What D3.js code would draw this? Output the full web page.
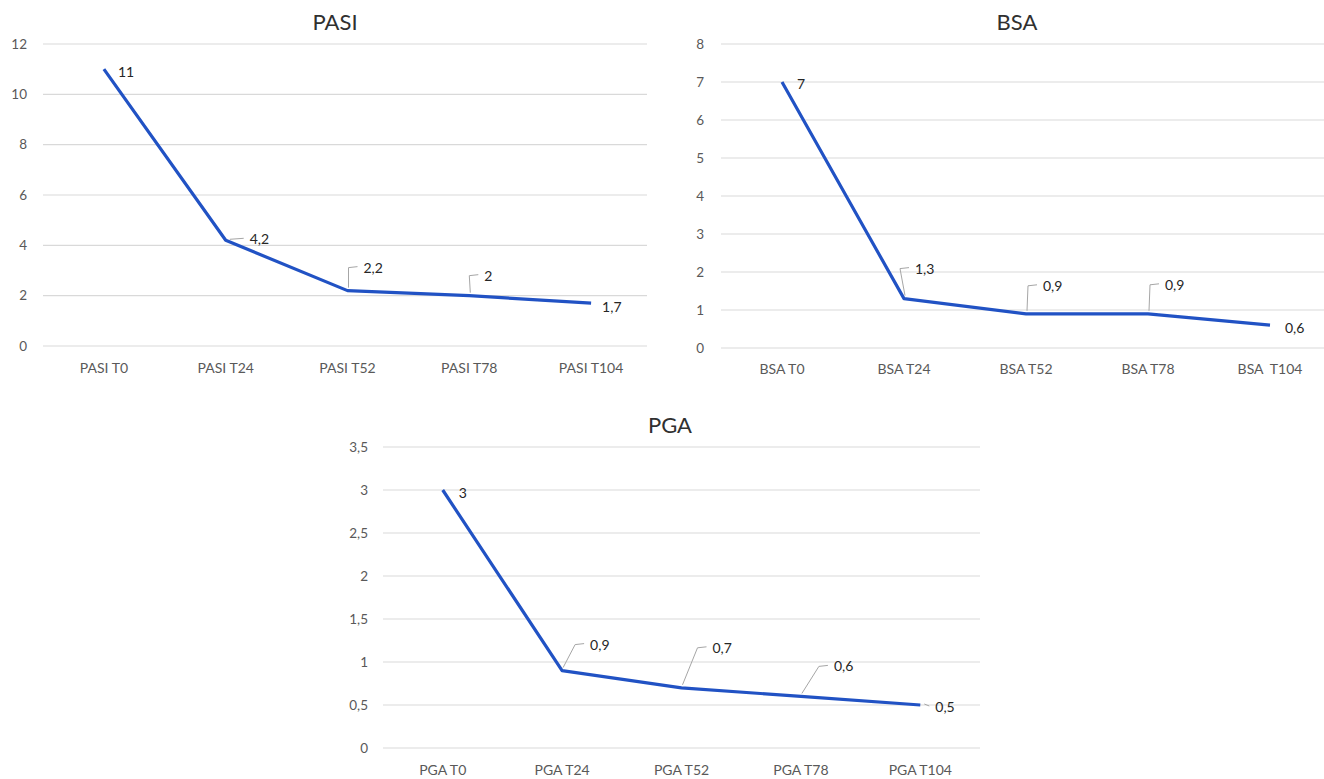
<!DOCTYPE html>
<html>
<head>
<meta charset="utf-8">
<script src="https://cdn.jsdelivr.net/npm/d3@7/dist/d3.min.js"></script>
<style>
  html, body { margin: 0; padding: 0; background: #fff; }
  svg { display: block; font-family: Lato, "Open Sans", sans-serif; }
  svg text { white-space: pre; }
</style>
</head>
<body>
<svg id="chart" width="1324" height="779"></svg>
<script>
// ---------- DATA ----------
const pasiCategories = ["PASI T0", "PASI T24", "PASI T52", "PASI T78", "PASI T104"];
const pasiValues = [11, 4.2, 2.2, 2, 1.7];
const pasiTicks = [0, 2, 4, 6, 8, 10, 12];

const bsaCategories = ["BSA T0", "BSA T24", "BSA T52", "BSA T78", "BSA  T104"];
const bsaValues = [7, 1.3, 0.9, 0.9, 0.6];
const bsaTicks = [0, 1, 2, 3, 4, 5, 6, 7, 8];

const pgaCategories = ["PGA T0", "PGA T24", "PGA T52", "PGA T78", "PGA T104"];
const pgaValues = [3, 0.9, 0.7, 0.6, 0.5];
const pgaTicks = [0, 0.5, 1, 1.5, 2, 2.5, 3, 3.5];

// ---------- LAYOUT (positions & styles) ----------
// label placement: [dx, dy, leader] relative to point; leader: 0 none, 1 bent, 2 short
const pasiLabelPos = [[14, 3, 0], [24, -1, 2], [16, -23, 1], [15, -20, 1], [11, 4, 0]];
const bsaLabelPos = [[15, 2, 0], [11, -30, 1], [17, -28, 1], [17, -29, 1], [15, 3, 0]];
const pgaLabelPos = [[16, 3, 0], [28, -26, 1], [31, -40, 1], [33, -30, 1], [15, 2, 2]];

const panels = [
  { title: "PASI", cats: pasiCategories, vals: pasiValues, ticks: pasiTicks, labels: pasiLabelPos,
    x0: 43, x1: 652, gridEnd: 647, yTop: 44, yBot: 346, titleX: 335, titleY: 30, tickX: 27, xLabY: 372 },
  { title: "BSA", cats: bsaCategories, vals: bsaValues, ticks: bsaTicks, labels: bsaLabelPos,
    x0: 721, x1: 1331, gridEnd: 1324, yTop: 44, yBot: 348, titleX: 1017, titleY: 30, tickX: 704, xLabY: 373 },
  { title: "PGA", cats: pgaCategories, vals: pgaValues, ticks: pgaTicks, labels: pgaLabelPos,
    x0: 383, x1: 980, gridEnd: 980, yTop: 447, yBot: 748, titleX: 670, titleY: 433, tickX: 368, xLabY: 774 }
];

const fmt = v => String(v).replace(".", ",");
const svg = d3.select("#chart");

panels.forEach(p => {
  const g = svg.append("g");
  const x = d3.scaleBand().domain(p.cats).range([p.x0, p.x1]);
  const y = d3.scaleLinear().domain([0, d3.max(p.ticks)]).range([p.yBot, p.yTop]);

  // gridlines
  g.selectAll("line.grid").data(p.ticks).enter().append("line")
    .attr("x1", p.x0).attr("x2", p.gridEnd)
    .attr("y1", d => y(d)).attr("y2", d => y(d))
    .attr("stroke", "#d9d9d9").attr("stroke-width", 1.2);

  // y axis tick labels
  const yAxis = d3.axisLeft(y).tickValues(p.ticks).tickFormat(fmt).tickSize(0).tickPadding(0);
  const ya = g.append("g").attr("transform", `translate(${p.tickX},0)`).call(yAxis);
  ya.select(".domain").remove();
  ya.selectAll("text").attr("fill", "#595959").style("font-size", "13.5px")
    .style("font-family", "Lato, 'Open Sans', sans-serif");

  // x axis category labels
  const xAxis = d3.axisBottom(x).tickSize(0).tickPadding(0);
  const xa = g.append("g").attr("transform", `translate(0,${p.xLabY - 9})`).call(xAxis);
  xa.select(".domain").remove();
  xa.selectAll("text").attr("fill", "#595959").style("font-size", "14px")
    .style("font-family", "Lato, 'Open Sans', sans-serif");

  // title
  g.append("text").attr("x", p.titleX).attr("y", p.titleY).attr("text-anchor", "middle")
    .attr("fill", "#303030").style("font-size", "22px").text(p.title);

  const cx = c => x(c) + x.bandwidth() / 2;
  const pts = p.cats.map((c, i) => [cx(c), y(p.vals[i])]);

  // line
  g.append("path").datum(p.vals)
    .attr("d", d3.line().x((d, i) => cx(p.cats[i])).y(d => y(d)))
    .attr("fill", "none").attr("stroke", "#2152c4").attr("stroke-width", 3.2)
    .attr("stroke-linejoin", "round");

  // data labels with leader lines
  p.vals.forEach((v, i) => {
    const [px, py] = pts[i];
    const [dx, dy, leader] = p.labels[i];
    const lx = px + dx, ly = py + dy;
    if (leader === 1) {
      g.append("path")
        .attr("d", `M${px + 1},${py - 3} L${lx - 15},${ly} L${lx - 6},${ly - 1}`)
        .attr("fill", "none").attr("stroke", "#a6a6a6").attr("stroke-width", 1);
    } else if (leader === 2) {
      g.append("line").attr("x1", px + 4).attr("y1", py - 1).attr("x2", lx - 6).attr("y2", ly - 1)
        .attr("stroke", "#a6a6a6").attr("stroke-width", 1);
    }
    g.append("text").attr("x", lx).attr("y", ly).attr("dy", "0.35em")
      .attr("fill", "#262626").style("font-size", "14px").text(fmt(v));
  });
});
</script>
</body>
</html>
